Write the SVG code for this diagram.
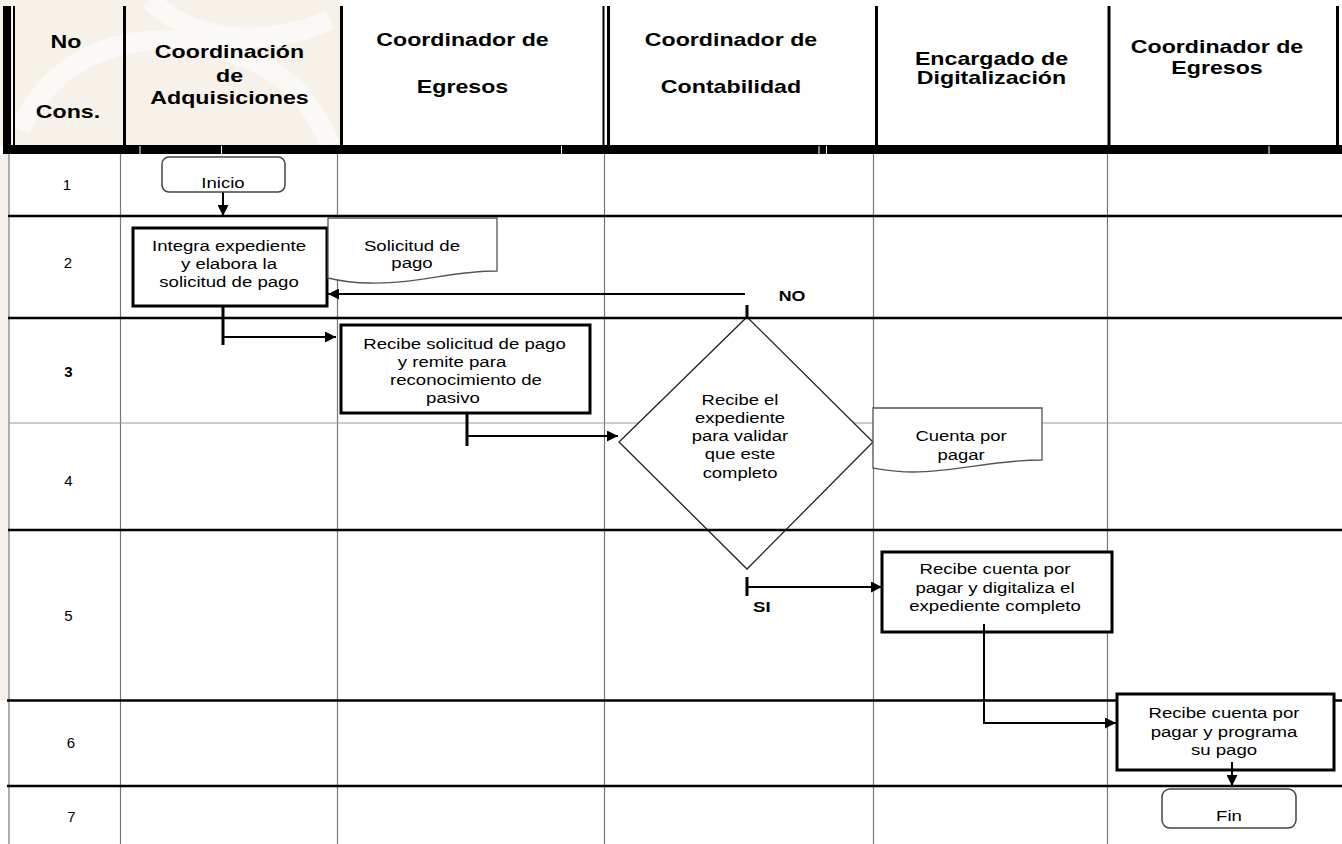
<svg xmlns="http://www.w3.org/2000/svg" width="1342" height="844" viewBox="0 0 1342 844">
<style>
.h{font-family:"Liberation Sans",Arial,sans-serif;font-weight:bold;font-size:17.7px;text-anchor:middle;fill:#000}
.b{font-family:"Liberation Sans",Arial,sans-serif;font-size:15.5px;text-anchor:middle;fill:#000}
.lb{font-family:"Liberation Sans",Arial,sans-serif;font-weight:bold;font-size:15.5px;text-anchor:middle;fill:#000}
.n{font-family:"Liberation Sans",Arial,sans-serif;font-size:15px;text-anchor:middle;fill:#000}
.col{stroke:#777;stroke-width:1.2}
.thick{stroke:#000;stroke-width:2.6}
.thin{stroke:#999;stroke-width:1.2}
.box{fill:#fff;stroke:#000;stroke-width:3}
.term{fill:#fff;stroke:#444;stroke-width:1.5}
.doc{fill:#fff;stroke:#555;stroke-width:1.3}
.dia{fill:#fff;stroke:#222;stroke-width:1.3}
.con{fill:none;stroke:#000;stroke-width:2}
.tick{fill:none;stroke:#000;stroke-width:3}
</style>
<defs>
<marker id="ah" markerUnits="userSpaceOnUse" markerWidth="12" markerHeight="11" refX="11" refY="5.5" orient="auto">
<path d="M0,0 L11,5.5 L0,11 Z" fill="#000"/>
</marker>
</defs>
<rect width="1342" height="844" fill="#fff"/>
<g id="watermark" fill="#f6f2ea">
<path d="M0,0 H340 V145 H0 Z"/>
<path d="M0,154 H8 V700 H0 Z"/>
</g>
<g id="watermark-light" fill="none" stroke="#fbf9f5" stroke-width="20">
<path d="M20,130 C60,40 160,20 250,60 C300,80 320,120 330,145"/>
<path d="M150,0 C190,40 260,50 330,20"/>
</g>
<g id="header">
<rect x="3" y="6" width="8" height="148" fill="#000"/>
<line x1="14" y1="6" x2="14" y2="146" stroke="#000" stroke-width="2"/>
<line x1="124.5" y1="6" x2="124.5" y2="146" stroke="#000" stroke-width="3"/>
<line x1="341.5" y1="6" x2="341.5" y2="146" stroke="#000" stroke-width="3"/>
<line x1="603.5" y1="6" x2="603.5" y2="146" stroke="#000" stroke-width="2"/>
<line x1="608.5" y1="6" x2="608.5" y2="146" stroke="#000" stroke-width="3"/>
<line x1="876.5" y1="6" x2="876.5" y2="146" stroke="#000" stroke-width="3"/>
<line x1="1109" y1="6" x2="1109" y2="146" stroke="#000" stroke-width="3"/>
<line x1="1337.5" y1="6" x2="1337.5" y2="146" stroke="#000" stroke-width="3"/>
<rect x="3" y="145" width="1339" height="9" fill="#000"/>
<g stroke="#fff" stroke-width="1">
<line x1="140" y1="146" x2="140" y2="154"/><line x1="221.5" y1="146" x2="221.5" y2="154"/>
<line x1="561.5" y1="146" x2="561.5" y2="154"/><line x1="819" y1="146" x2="819" y2="154"/>
<line x1="826.5" y1="146" x2="826.5" y2="154"/><line x1="1269" y1="146" x2="1269" y2="154"/>
</g>
<g transform="translate(66 0) scale(1.31 1)"><text class="h" x="0" y="48">No</text></g>
<g transform="translate(68 0) scale(1.31 1)"><text class="h" x="0" y="118.5">Cons.</text></g>
<g transform="translate(229.5 0) scale(1.31 1)"><text class="h" x="0" y="58">Coordinación</text><text class="h" x="0" y="82">de</text><text class="h" x="0" y="104.5">Adquisiciones</text></g>
<g transform="translate(462.5 0) scale(1.31 1)"><text class="h" x="0" y="46.5">Coordinador de</text><text class="h" x="0" y="93">Egresos</text></g>
<g transform="translate(731 0) scale(1.31 1)"><text class="h" x="0" y="46.5">Coordinador de</text><text class="h" x="0" y="93">Contabilidad</text></g>
<g transform="translate(991.5 0) scale(1.31 1)"><text class="h" x="0" y="65">Encargado de</text><text class="h" x="0" y="84">Digitalización</text></g>
<g transform="translate(1217 0) scale(1.31 1)"><text class="h" x="0" y="53">Coordinador de</text><text class="h" x="0" y="74">Egresos</text></g>
</g>
<g id="grid">
<line class="col" x1="9" y1="154" x2="9" y2="844"/>
<line class="col" x1="120.5" y1="154" x2="120.5" y2="844"/>
<line class="col" x1="337.5" y1="154" x2="337.5" y2="844"/>
<line class="col" x1="604.5" y1="154" x2="604.5" y2="844"/>
<line class="col" x1="873.5" y1="154" x2="873.5" y2="844"/>
<line class="col" x1="1107.5" y1="154" x2="1107.5" y2="844"/>
<line class="thin" x1="9" y1="423" x2="1342" y2="423"/>
</g>
<g id="numbers">
<text class="n" x="67" y="190">1</text>
<text class="n" x="68" y="268">2</text>
<text class="n" x="68.5" y="377" font-weight="bold">3</text>
<text class="n" x="68.5" y="486">4</text>
<text class="n" x="68.5" y="621">5</text>
<text class="n" x="71" y="748">6</text>
<text class="n" x="71.5" y="821.5">7</text>
</g>
<g id="node-decision">
<polygon class="dia" points="747,317 873,442 747,569 619,442"/>
<g transform="translate(740 0) scale(1.19 1)"><text class="b" x="0" y="405">Recibe el</text><text class="b" x="0" y="423">expediente</text><text class="b" x="0" y="441">para validar</text><text class="b" x="0" y="459.5">que este</text><text class="b" x="0" y="478">completo</text></g>
</g>
<g id="rows">
<line class="thick" x1="8" y1="216" x2="1342" y2="216"/>
<line class="thick" x1="8" y1="318" x2="1342" y2="318"/>
<line class="thick" x1="8" y1="530" x2="1342" y2="530"/>
<line class="thick" x1="7" y1="700.5" x2="1342" y2="700.5"/>
<line class="thick" x1="7" y1="786" x2="1342" y2="786"/>
</g>
<g id="connectors">
<path class="con" d="M223,192 V216" marker-end="url(#ah)"/>
<path class="tick" d="M223,306 V345"/>
<path class="con" d="M223,337 H336" marker-end="url(#ah)"/>
<path class="con" d="M745,294 H328" stroke="#444" marker-end="url(#ah)"/>
<path class="tick" d="M747,305 V318"/>
<path class="tick" d="M467,413 V446"/>
<path class="con" d="M467,436 H618" marker-end="url(#ah)"/>
<path class="tick" d="M747,577 V596"/>
<path class="con" d="M747,587 H882" marker-end="url(#ah)"/>
<g transform="translate(761.8 0) scale(1.2 1)"><text class="lb" x="0" y="612">SI</text></g>
<g transform="translate(792 0) scale(1.15 1)"><text class="lb" x="0" y="301">NO</text></g>
</g>
<g id="node-inicio">
<rect class="term" x="162" y="157" width="123" height="35" rx="7"/>
<g transform="translate(223 0) scale(1.2 1)"><text class="b" x="0" y="188">Inicio</text></g>
</g>
<g id="node-integra">
<rect class="box" x="133" y="228" width="194" height="78"/>
<g transform="translate(229 0) scale(1.2 1)"><text class="b" x="0" y="251">Integra expediente</text><text class="b" x="0" y="269">y elabora la</text><text class="b" x="0" y="287">solicitud de pago</text></g>
</g>
<g id="node-solicitud">
<path class="doc" d="M328,218 H497 V271 C450,271 420,284 370,283 C355,283 340,281 328,278 Z"/>
<g transform="translate(412 0) scale(1.2 1)"><text class="b" x="0" y="251.5">Solicitud de</text><text class="b" x="0" y="268.5">pago</text></g>
</g>
<g id="node-recibe-solicitud">
<rect class="box" x="341" y="325" width="249" height="88"/>
<text class="b" x="464.5" y="349" transform="translate(464.5 0) scale(1.2 1) translate(-464.5 0)">Recibe solicitud de pago</text>
<text class="b" x="452" y="367" transform="translate(452 0) scale(1.2 1) translate(-452 0)">y remite para</text>
<text class="b" x="466" y="385" transform="translate(466 0) scale(1.2 1) translate(-466 0)">reconocimiento de</text>
<text class="b" x="453" y="403" transform="translate(453 0) scale(1.2 1) translate(-453 0)">pasivo</text>
</g>
<g id="node-cuenta">
<path class="doc" d="M873,408 H1042 V460 C990,460 960,472 913,472 C895,472 885,470 873,468 Z"/>
<g transform="translate(961 0) scale(1.19 1)"><text class="b" x="0" y="441.5">Cuenta por</text><text class="b" x="0" y="460">pagar</text></g>
</g>
<g id="node-digitaliza">
<rect class="box" x="882" y="552" width="230" height="80"/>
<g transform="translate(995 0) scale(1.2 1)"><text class="b" x="0" y="574">Recibe cuenta por</text><text class="b" x="0" y="593">pagar y digitaliza el</text><text class="b" x="0" y="611.5">expediente completo</text></g>
</g>
<g id="node-programa">
<rect class="box" x="1117" y="694" width="217" height="76"/>
<g transform="translate(1224 0) scale(1.2 1)"><text class="b" x="0" y="718">Recibe cuenta por</text><text class="b" x="0" y="737">pagar y programa</text><text class="b" x="0" y="755">su pago</text></g>
</g>
<g id="connectors-2">
<path class="con" d="M984,624 V723 H1116" stroke="#333" stroke-width="1.6" marker-end="url(#ah)"/>
<path class="con" d="M1232,762 V786" marker-end="url(#ah)"/>
</g>
<g id="node-fin">
<rect class="term" x="1162" y="789" width="134" height="39" rx="8"/>
<g transform="translate(1229 0) scale(1.2 1)"><text class="b" x="0" y="821.5">Fin</text></g>
</g>
</svg>
